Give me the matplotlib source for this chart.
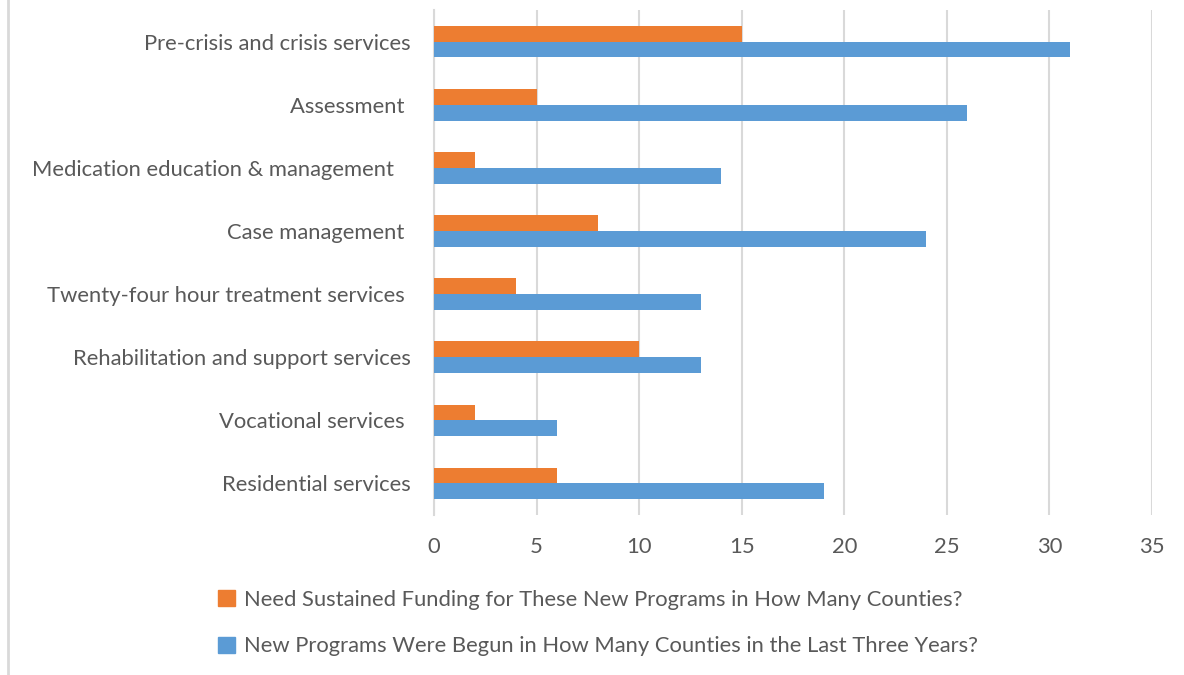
import numpy as np
import matplotlib.pyplot as plt
from matplotlib.lines import Line2D

# service categories, listed top to bottom
services = [
    "Pre-crisis and crisis services",
    "Assessment ",
    "Medication education & management   ",
    "Case management ",
    "Twenty-four hour treatment services ",
    "Rehabilitation and support services",
    "Vocational services ",
    "Residential services",
]
sustained_funding = [15, 5, 2, 8, 4, 10, 2, 6]
new_programs = [31, 26, 14, 24, 13, 13, 6, 19]

label_funding = "Need Sustained Funding for These New Programs in How Many Counties?"
label_new = "New Programs Were Begun in How Many Counties in the Last Three Years?"

orange = "#ED7D31"
blue = "#5B9BD5"
text_col = "#595959"
grid_col = "#D9D9D9"

plt.rcParams["font.family"] = ["Lato", "DejaVu Sans"]

fig = plt.figure(figsize=(11.84, 6.75), dpi=100)
ax = fig.add_axes([0.3666, 0.237, 0.6064, 0.748])

y = np.arange(len(services))[::-1].astype(float)
h = 0.25
ax.barh(y + h / 2, sustained_funding, height=h, color=orange, label=label_funding, zorder=3)
ax.barh(y - h / 2, new_programs, height=h, color=blue, label=label_new, zorder=3)

ax.set_xlim(0, 35)
ax.set_ylim(-0.5, len(services) - 0.5)
ax.set_xticks(range(0, 36, 5))
ax.set_yticks(y)
ax.set_yticklabels(services)

ax.grid(axis="x", color=grid_col, linewidth=1.5, zorder=0)
for s in ["top", "right", "bottom"]:
    ax.spines[s].set_visible(False)
ax.spines["left"].set_color(grid_col)
ax.spines["left"].set_linewidth(1.5)
ax.tick_params(axis="both", length=0, labelsize=15.8, colors=text_col)
ax.tick_params(axis="x", pad=16)
ax.tick_params(axis="y", pad=17)

handles = [
    plt.Rectangle((0, 0), 1, 1, color=orange),
    plt.Rectangle((0, 0), 1, 1, color=blue),
]
fig.legend(handles, [label_funding, label_new], loc="center",
           bbox_to_anchor=(0.505, 0.077), frameon=False, fontsize=15.8,
           labelcolor=text_col, handlelength=0.75, handleheight=0.75,
           handletextpad=0.4, labelspacing=1.2)

# thin frame edge on the left side
fig.add_artist(Line2D([0.0065, 0.0065], [0, 1], color=grid_col, linewidth=2,
                      transform=fig.transFigure))

fig.savefig("out.png", dpi=100, facecolor="white")
